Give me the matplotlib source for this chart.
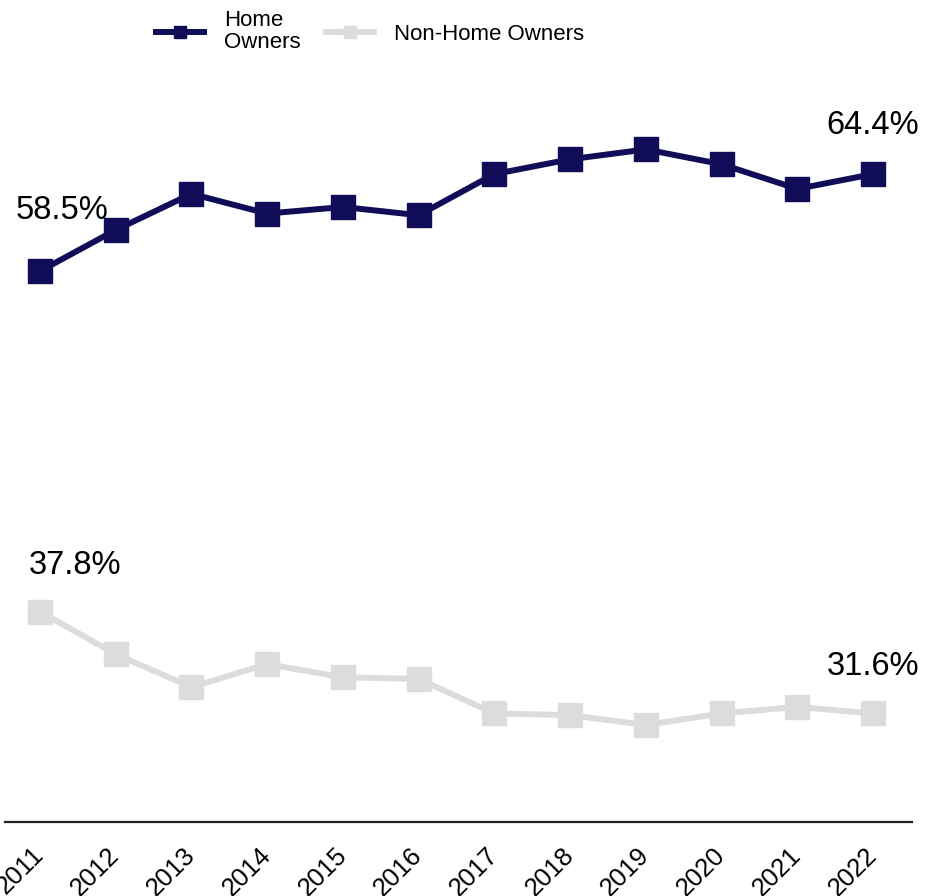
import matplotlib.pyplot as plt

years = ["2011", "2012", "2013", "2014", "2015", "2016",
         "2017", "2018", "2019", "2020", "2021", "2022"]
home_owners = [58.5, 61.0, 63.2, 62.0, 62.4, 61.9, 64.4, 65.3, 65.9, 65.0, 63.5, 64.4]
non_home_owners = [37.8, 35.2, 33.2, 34.6, 33.8, 33.7, 31.6, 31.5, 30.9, 31.6, 32.0, 31.6]

navy = "#100c57"
grey = "#dcdcdc"

plt.rcParams['font.family'] = ['Liberation Sans', 'DejaVu Sans']

fig = plt.figure(figsize=(9.26, 8.96), dpi=100)
ax = fig.add_axes([5 / 926, 1 - 822 / 896, 907 / 926, (822 - 82) / 896])

x = list(range(len(years)))
ax.plot(x, home_owners, color=navy, lw=4.3, marker="s", ms=17,
        label="Home\nOwners")
ax.plot(x, non_home_owners, color=grey, lw=4.3, marker="s", ms=17,
        label="Non-Home Owners")

ax.set_xlim(-0.462, 11.515)
ax.set_ylim(25, 70)
ax.set_xticks(x, labels=years, fontsize=18.5)
plt.setp(ax.get_xticklabels(), rotation=45, ha="right", va="center",
         rotation_mode="anchor")
ax.tick_params(axis="x", length=0, pad=21)
ax.set_yticks([])
for side in ["top", "left", "right"]:
    ax.spines[side].set_visible(False)
ax.spines["bottom"].set_linewidth(1.6)
ax.spines["bottom"].set_color("#222222")

# first / last value labels
def label(i, values, dx, dy):
    ax.annotate(f"{values[i]:.1f}%", xy=(x[i], values[i]),
                xytext=(dx, dy), textcoords="offset points",
                ha="center", va="center", fontsize=23.5)

label(0, home_owners, 16, 44)
label(-1, home_owners, 0, 35)
label(0, non_home_owners, 25, 33)
label(-1, non_home_owners, 0, 34)

leg = fig.legend(loc="upper center", bbox_to_anchor=(370 / 926, 0.996), ncol=2,
                 frameon=False, fontsize=16, handlelength=2.15,
                 handletextpad=0.9, columnspacing=1.15, markerscale=0.55,
                 borderaxespad=0, borderpad=0.3)
for t in leg.get_texts():
    t.set_linespacing(1.05)

fig.savefig("out.png", dpi=100)
